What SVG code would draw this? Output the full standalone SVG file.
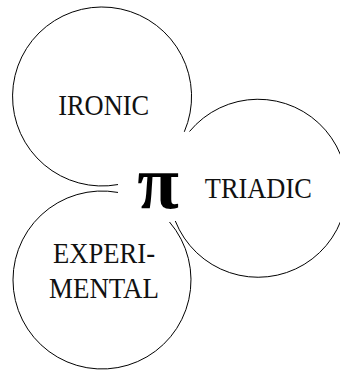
<svg xmlns="http://www.w3.org/2000/svg" width="340" height="371" viewBox="0 0 340 371">
<style>
.c{fill:none;stroke:#000;stroke-width:1}
.t{font-family:"Liberation Serif","Times New Roman",serif;font-size:29px;fill:#111;text-anchor:middle}
.pi{font-family:"Liberation Serif","Times New Roman",serif;font-size:76px;font-weight:bold;fill:#000;text-anchor:middle}
</style>
<rect width="340" height="371" fill="#fff"/>
<g id="ironic">
<path class="c" d="M118,184.56 A89.5,89.5 0 1 1 184.3,131.8"/>
<text class="t" x="103.7" y="115" textLength="91" lengthAdjust="spacingAndGlyphs">IRONIC</text>
</g>
<g id="triadic">
<path class="c" d="M189.5,131.5 A89,89 0 1 1 175.3,221"/>
<text class="t" x="258.3" y="198.3" textLength="107" lengthAdjust="spacingAndGlyphs">TRIADIC</text>
</g>
<g id="experimental">
<path class="c" d="M169.5,222 A89,89 0 1 1 118,192.45"/>
<text class="t" x="104" y="263.3" textLength="102" lengthAdjust="spacingAndGlyphs">EXPERI-</text>
<text class="t" x="104" y="298.3" textLength="110" lengthAdjust="spacingAndGlyphs">MENTAL</text>
</g>
<g id="pi">
<text class="pi" x="158" y="208">π</text>
</g>
<g id="connectors"></g>
</svg>
